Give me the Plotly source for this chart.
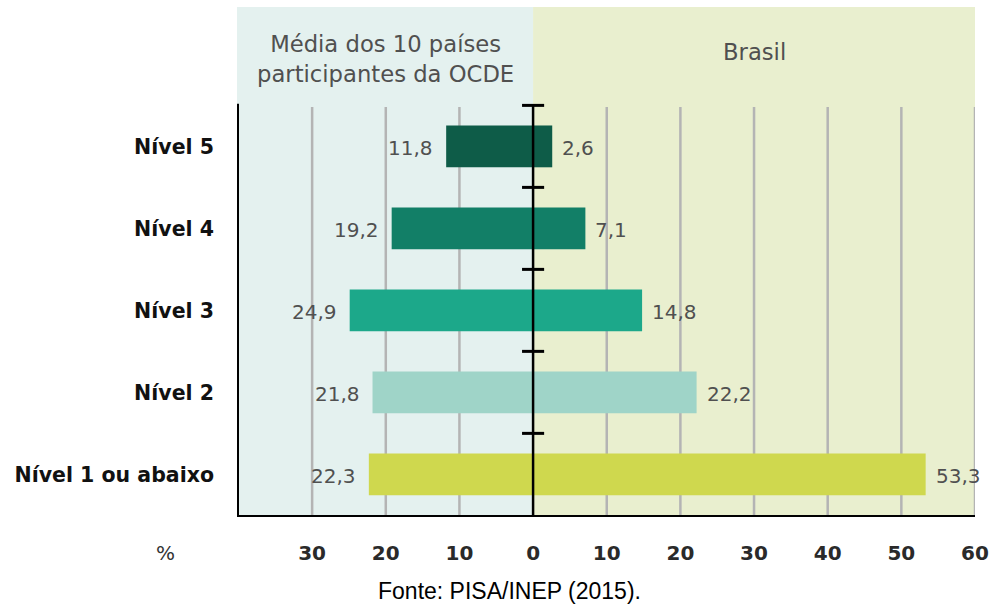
import plotly.graph_objects as go

categories = ["Nível 1 ou abaixo", "Nível 2", "Nível 3", "Nível 4", "Nível 5"]
ocde = [22.3, 21.8, 24.9, 19.2, 11.8]
brasil = [53.3, 22.2, 14.8, 7.1, 2.6]
bar_colors = ["#CFD84E", "#9FD4C8", "#1CA88A", "#127F67", "#0E5C48"]
xtick_vals = [-30, -20, -10, 0, 10, 20, 30, 40, 50, 60]
xtick_text = ["30", "20", "10", "0", "10", "20", "30", "40", "50", "60"]

ypos = list(range(len(categories)))
XMIN, XMAX = -40.2, 60
YMIN, YMAX = -0.52, 5.70
GTOP = 4.48

fmt = lambda v: f"{v:.1f}".replace(".", ",")

fig = go.Figure()
fig.add_trace(go.Bar(y=ypos, x=[-v for v in ocde], orientation="h", width=0.51,
                     marker=dict(color=bar_colors, line=dict(width=0)), hoverinfo="skip"))
fig.add_trace(go.Bar(y=ypos, x=brasil, orientation="h", width=0.51,
                     marker=dict(color=bar_colors, line=dict(width=0)), hoverinfo="skip"))

shapes = []
shapes.append(dict(type="rect", xref="x", yref="y", x0=XMIN, x1=0, y0=YMIN, y1=YMAX,
                   fillcolor="#E4F1EF", line=dict(width=0), layer="below"))
shapes.append(dict(type="rect", xref="x", yref="y", x0=0, x1=XMAX, y0=YMIN, y1=YMAX,
                   fillcolor="#E9EFCF", line=dict(width=0), layer="below"))
for gx in [-30, -20, -10, 10, 20, 30, 40, 50, 60]:
    shapes.append(dict(type="line", xref="x", yref="y", x0=gx, x1=gx, y0=YMIN, y1=GTOP,
                       line=dict(color="#B4B4B4", width=2.5), layer="below"))
shapes.append(dict(type="line", xref="x", yref="y", x0=0, x1=0, y0=YMIN, y1=4.5,
                   line=dict(color="black", width=2.5)))
for b in [0.5, 1.5, 2.5, 3.5, 4.5]:
    shapes.append(dict(type="line", xref="x", yref="y", x0=-1.5, x1=1.5, y0=b, y1=b,
                       line=dict(color="black", width=3)))
shapes.append(dict(type="line", xref="x", yref="y", x0=XMIN, x1=XMIN, y0=YMIN, y1=4.52,
                   line=dict(color="black", width=4)))
shapes.append(dict(type="line", xref="x", yref="y", x0=XMIN, x1=XMAX, y0=YMIN, y1=YMIN,
                   line=dict(color="black", width=4)))

pw, ph = 996 - 237 - 21, 607 - 7 - 90
annotations = []
lblfont = dict(family="DejaVu Sans, sans-serif", size=20, color="#505050")
for y, v in zip(ypos, ocde):
    annotations.append(dict(x=-v, y=y, xref="x", yref="y", text=fmt(v), showarrow=False,
                            xanchor="right", xshift=-11, yshift=-2, font=lblfont))
for y, v in zip(ypos, brasil):
    annotations.append(dict(x=v, y=y, xref="x", yref="y", text=fmt(v), showarrow=False,
                            xanchor="left", xshift=8, yshift=-2, font=lblfont))
hdrfont = dict(family="DejaVu Sans, sans-serif", size=22.7, color="#505050")
annotations.append(dict(x=-20.1, y=5.06, xref="x", yref="y",
                        text="Média dos 10 países<br>participantes da OCDE",
                        showarrow=False, font=hdrfont, align="center"))
annotations.append(dict(x=30, y=5.15, xref="x", yref="y", text="Brasil",
                        showarrow=False, font=hdrfont))
annotations.append(dict(x=(165 - 237) / pw, y=(607 - 90 - 553) / ph, xref="paper", yref="paper",
                        text="%", showarrow=False, xanchor="center", yanchor="middle",
                        font=dict(family="DejaVu Sans, sans-serif", size=20, color="#333")))
annotations.append(dict(x=(509 - 237) / pw, y=(607 - 90 - 591) / ph, xref="paper", yref="paper",
                        text="Fonte: PISA/INEP (2015).", showarrow=False,
                        xanchor="center", yanchor="middle",
                        font=dict(family="Liberation Sans, Arial, sans-serif", size=23, color="black")))

fig.update_layout(
    width=996, height=607,
    margin=dict(l=237, r=21, t=7, b=90),
    paper_bgcolor="white", plot_bgcolor="white",
    barmode="overlay", showlegend=False,
    shapes=shapes, annotations=annotations,
    xaxis=dict(range=[XMIN, XMAX], tickvals=xtick_vals, ticktext=xtick_text,
               showgrid=False, zeroline=False, showline=False, ticks="",
               tickfont=dict(family="DejaVu Sans, sans-serif", size=20, color="#2a2a2a", weight="bold"),
               ticklabelstandoff=22, fixedrange=True),
    yaxis=dict(range=[YMIN, YMAX], tickvals=ypos, ticktext=categories,
               showgrid=False, zeroline=False, showline=False, ticks="",
               tickfont=dict(family="DejaVu Sans, sans-serif", size=20.5, color="#111", weight="bold"),
               ticklabelstandoff=22, fixedrange=True),
)

fig.write_html("out.html", post_script="document.body.style.margin='0px';",
               config={"displayModeBar": False})
